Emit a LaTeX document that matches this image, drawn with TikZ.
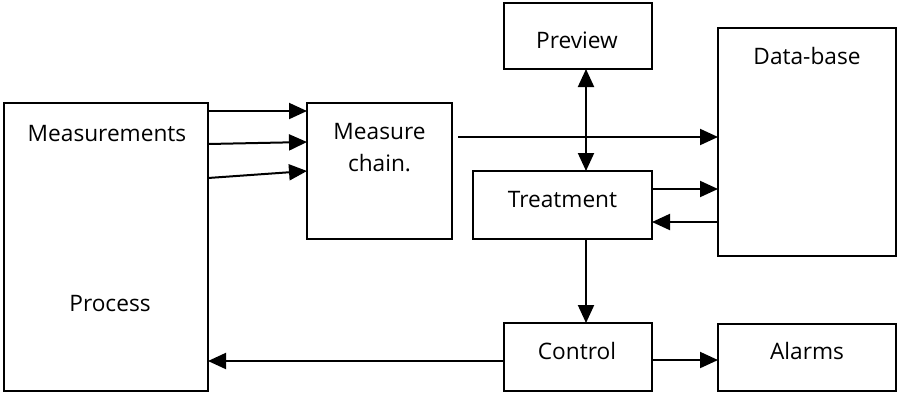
\documentclass[tikz,border=0pt]{standalone}
\usepackage{fontspec}
\setmainfont{Open Sans}
\usetikzlibrary{arrows.meta,calc}
\begin{document}
\begin{tikzpicture}[x=0.75pt,y=-0.75pt,
  box/.style={draw, line width=1.5pt, inner sep=0pt, outer sep=0pt, fill=white},
  lbl/.style={font=\fontsize{17pt}{24pt}\selectfont, inner sep=0pt},
  tip/.tip={Triangle[length=13.5pt,width=12pt]},
  flow/.style={line width=1.5pt, -tip},
  both/.style={line width=1.5pt, tip-tip}]
\useasboundingbox (0,0) rectangle (898,394);

% blocks
\node[box, minimum width=153pt,    minimum height=216pt]   (proc)  at (106,247)   {};
\node[box, minimum width=108.75pt, minimum height=102pt]   (chain) at (379.5,171) {};
\node[box, minimum width=111pt,    minimum height=49.5pt]  (prev)  at (578,36)    {};
\node[box, minimum width=134.25pt, minimum height=51pt]    (treat) at (562.5,205) {};
\node[box, minimum width=133.5pt,  minimum height=171pt]   (db)    at (807,142)   {};
\node[box, minimum width=111pt,    minimum height=51pt]    (ctrl)  at (578,357)   {};
\node[box, minimum width=133.5pt,  minimum height=50.25pt] (alarm) at (807,357.5) {};

% labels
\node[lbl, anchor=base] (tmeas)  at ($(proc.north)+(1,38)$)  {Measurements};
\node[lbl, anchor=base] (tproc)  at ($(proc.center)+(4,64)$) {Process};
\node[lbl, align=center] (tchain) at ($(chain.center)+(0,-23.5)$) {Measure\\chain.};
\node[lbl, anchor=base] (tprev)  at ($(prev.center)+(-1,12)$)  {Preview};
\node[lbl, anchor=base] (tdb)    at ($(db.north)+(0,36)$)      {Data-base};
\node[lbl, anchor=base] (ttreat) at ($(treat.center)+(0,2)$)   {Treatment};
\node[lbl, anchor=base] (tctrl)  at ($(ctrl.center)+(-1,2)$)   {Control};
\node[lbl, anchor=base] (talarm) at ($(alarm.center)+(0,1.5)$) {Alarms};

% measurement lines into the chain
\draw[flow] ($(proc.north east)+(0,8)$)  -- ($(chain.north west)+(0,8)$);
\draw[flow] ($(proc.north east)+(0,41)$) -- ($(chain.north west)+(0,39)$);
\draw[flow] ($(proc.north east)+(0,75)$) -- ($(chain.north west)+(0,68)$);

% chain to data-base
\coordinate (c1) at ($(chain.north east)+(6,34)$);
\draw[flow] (c1) -- (c1 -| db.west);

% preview <-> treatment
\coordinate (v1) at ($(prev.south)+(8,0)$);
\draw[both] (v1) -- (v1 |- treat.north);

% treatment <-> data-base
\coordinate (t1) at ($(treat.north east)+(0,18)$);
\coordinate (t2) at ($(treat.north east)+(0,51)$);
\draw[flow] (t1) -- (t1 -| db.west);
\draw[flow] (t2 -| db.west) -- (t2);

% treatment to control
\coordinate (v2) at ($(ctrl.north)+(8,0)$);
\draw[flow] (v2 |- treat.south) -- (v2);

% control outputs
\coordinate (k1) at ($(ctrl.east)+(0,3)$);
\draw[flow] (k1) -- (k1 -| alarm.west);
\coordinate (k2) at ($(ctrl.west)+(0,4)$);
\draw[flow] (k2) -- (k2 -| proc.east);
\end{tikzpicture}
\end{document}
